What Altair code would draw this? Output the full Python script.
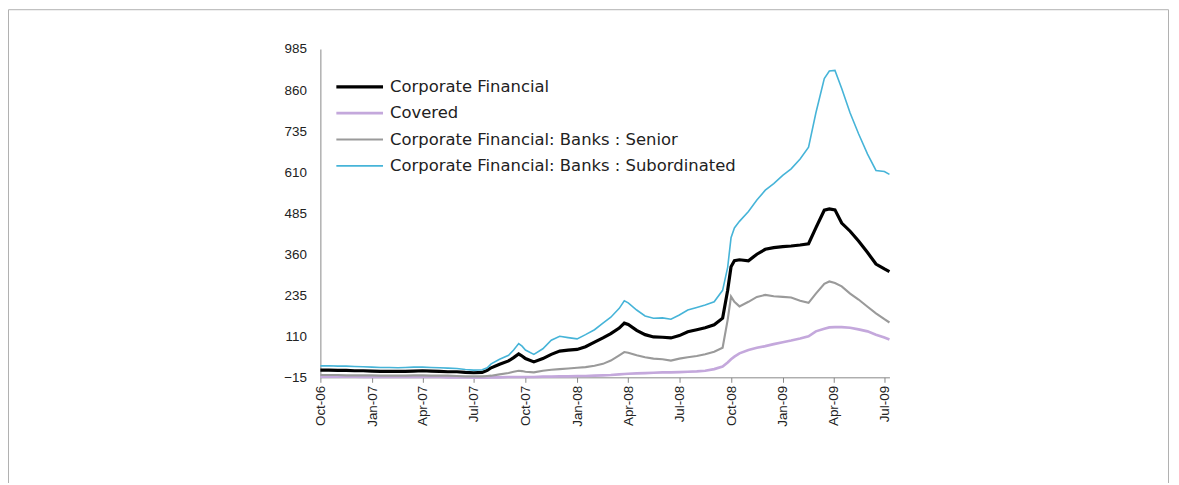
import altair as alt
import pandas as pd

dates = [
    "2006-10-01", "2006-10-16", "2006-11-01", "2006-11-16", "2006-12-01", "2006-12-16",
    "2007-01-01", "2007-01-16", "2007-02-01", "2007-02-16", "2007-03-01", "2007-03-16",
    "2007-04-01", "2007-04-16", "2007-05-01", "2007-05-16", "2007-06-01", "2007-06-16",
    "2007-07-01", "2007-07-16", "2007-07-25", "2007-08-01", "2007-08-16", "2007-09-01",
    "2007-09-10", "2007-09-19", "2007-09-25", "2007-10-01", "2007-10-16", "2007-11-01",
    "2007-11-16", "2007-12-01", "2007-12-16", "2008-01-01", "2008-01-16", "2008-02-01",
    "2008-02-16", "2008-03-01", "2008-03-16", "2008-03-25", "2008-04-01", "2008-04-16",
    "2008-05-01", "2008-05-16", "2008-06-01", "2008-06-16", "2008-07-01", "2008-07-16",
    "2008-08-01", "2008-08-16", "2008-09-01", "2008-09-16", "2008-09-25", "2008-10-01",
    "2008-10-07", "2008-10-16", "2008-11-01", "2008-11-16", "2008-12-01", "2008-12-16",
    "2009-01-01", "2009-01-16", "2009-02-01", "2009-02-16", "2009-03-01", "2009-03-16",
    "2009-03-25", "2009-04-04", "2009-04-16", "2009-05-01", "2009-05-16", "2009-06-01",
    "2009-06-16", "2009-07-01", "2009-07-10",
]

subordinated = [
    20, 20, 19, 19, 18, 17, 16, 15, 15, 14, 15, 16, 16, 15, 14, 13, 12, 9,
    7, 8, 14, 26, 40, 52, 68, 88, 80, 68, 55, 72, 98, 110, 106, 102, 115, 130,
    150, 168, 195, 218, 212, 190, 172, 165, 166, 162, 175, 190, 198, 205, 215, 250,
    320, 410, 440, 460, 490, 525, 555, 575, 600, 620, 650, 686, 790, 895, 918, 920,
    865, 790, 727, 665, 615, 612, 603,
]
corporate = [
    7, 7, 6, 6, 5, 5, 4, 3, 3, 3, 3, 4, 5, 4, 3, 2, 2, 0,
    -1, 0, 6, 14, 25, 35, 45, 56, 50, 42, 32, 42, 55, 65, 68, 70, 78, 92,
    105, 118, 135, 150, 146, 128, 115, 108, 107, 105, 112, 124, 130, 136, 145, 165,
    250, 322, 340, 343, 340, 360, 375, 380, 383, 385, 388, 392, 440, 494, 498, 495,
    455, 430, 400, 365, 330, 315, 307,
]
senior = [
    -8, -8, -8, -9, -9, -9, -9, -10, -10, -10, -10, -9, -9, -10, -10, -10, -11, -12,
    -12, -12, -11, -10, -6, -2, 2, 5, 4, 2, 0, 5, 8, 10, 12, 14, 16, 20,
    26, 36, 52, 62, 60, 52, 46, 42, 40, 36, 42, 46, 50, 55, 63, 75,
    160, 231, 215, 201, 215, 230, 236, 232, 230, 228, 218, 212, 240, 270, 277, 272,
    262, 240, 222, 200, 180, 162, 152,
]
covered = [
    -13, -13, -13, -13, -13, -14, -14, -14, -14, -14, -14, -14, -14, -14, -14, -15, -15, -15,
    -16, -16, -16, -15, -15, -14, -14, -14, -14, -14, -14, -13, -13, -12, -12, -11, -11, -10,
    -9, -8, -6, -5, -4, -3, -2, -1, 0, 0, 1, 2, 3, 5, 10, 18,
    30, 40, 48, 58, 68, 75, 80, 86, 92, 97, 103, 110, 125, 133, 137, 138,
    138, 136, 131, 125, 115, 106, 100,
]

series_names = [
    "Corporate Financial",
    "Covered",
    "Corporate Financial: Banks : Senior",
    "Corporate Financial: Banks : Subordinated",
]
series_colors = ["#000000", "#c4a8dc", "#9a9a9a", "#46b4d8"]
series_widths = [3.2, 1.6, 2.6, 2.2]
draw_order = [3, 2, 1, 0]  # subordinated drawn first, corporate last (on top)

y_ticks = [-15, 110, 235, 360, 485, 610, 735, 860, 985]
x_tick_dates = [
    "2006-10-01", "2007-01-01", "2007-04-01", "2007-07-01", "2007-10-01", "2008-01-01",
    "2008-04-01", "2008-07-01", "2008-10-01", "2009-01-01", "2009-04-01", "2009-07-01",
]

values_by_series = [corporate, covered, senior, subordinated]
rows = []
for si, vals in enumerate(values_by_series):
    for d, v in zip(dates, vals):
        rows.append({"date": d + "T00:00:00", "value": v, "series": series_names[si],
                     "order": draw_order[si]})
df = pd.DataFrame(rows)

x_vals = [alt.DateTime(year=int(s[:4]), month=int(s[5:7]), date=1) for s in x_tick_dates]

base = alt.Chart(df)

lines = base.mark_line(interpolate="linear").encode(
    x=alt.X(
        "date:T",
        scale=alt.Scale(domain=[alt.DateTime(year=2006, month=10, date=1),
                                alt.DateTime(year=2009, month=7, date=10)]),
        axis=alt.Axis(
            values=x_vals, format="%b-%y", labelAngle=270, labelAlign="right",
            labelBaseline="middle", title=None, grid=False, tickSize=5,
            tickColor="#888", domainColor="#888", labelFontSize=13.5,
            labelColor="#222", labelFont="Liberation Sans", labelPadding=3,
        ),
    ),
    y=alt.Y(
        "value:Q",
        scale=alt.Scale(domain=[-15, 985], nice=False, zero=False),
        axis=alt.Axis(
            values=y_ticks, title=None, grid=False, ticks=False, domainColor="#888",
            labelFontSize=13.5, labelColor="#222", labelFont="Liberation Sans",
            labelPadding=14,
        ),
    ),
    color=alt.Color(
        "series:N",
        scale=alt.Scale(domain=series_names, range=series_colors),
        legend=alt.Legend(
            title=None, orient="none", legendX=14, legendY=28, symbolType="stroke",
            symbolSize=2200, symbolStrokeWidth=2.6, labelFontSize=16.5,
            labelFont="DejaVu Sans", labelColor="#222", labelOffset=5,
            clipHeight=20, rowPadding=6.5, labelLimit=600,
        ),
    ),
    strokeWidth=alt.StrokeWidth(
        "series:N", scale=alt.Scale(domain=series_names, range=series_widths), legend=None
    ),
    order=alt.Order("order:Q"),
    detail="series:N",
)

frame = alt.Chart(pd.DataFrame({"k": [0]})).mark_rect(
    fill=None, stroke="#b0b0b0", strokeWidth=1
).encode(
    x=alt.value(-313.5), x2=alt.value(852.5), y=alt.value(-39.5), y2=alt.value(480)
)

chart = alt.layer(frame, lines).properties(
    width=572, height=330,
    autosize=alt.AutoSizeParams(type="none"),
    padding={"left": 314, "top": 40, "right": 283, "bottom": 105},
).configure(background="white", view=alt.ViewConfig(stroke=None))

chart.save("out.html", embed_options={"renderer": "svg", "actions": False})
